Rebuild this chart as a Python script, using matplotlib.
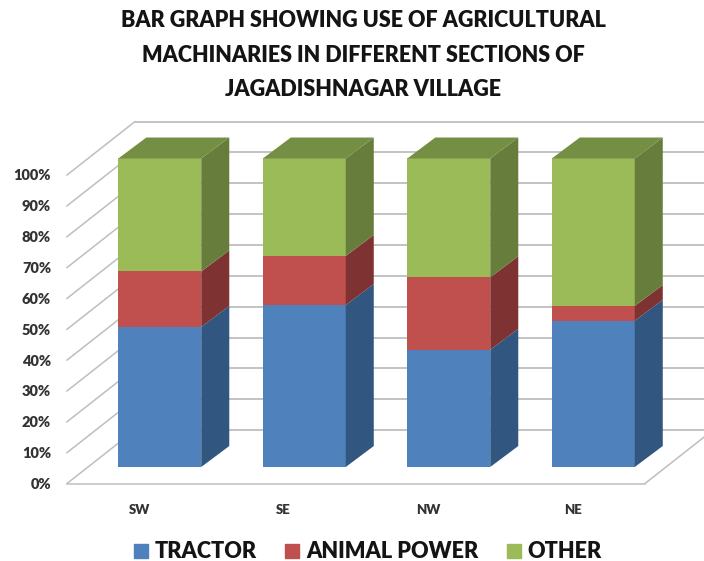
import numpy as np
import matplotlib.pyplot as plt
from matplotlib.patches import Patch

plt.rcParams['font.family'] = ['Lato', 'DejaVu Sans']

sections = ['SW', 'SE', 'NW', 'NE']
tractor = [45.4, 52.5, 38.0, 47.4]
animal_power = [18.0, 15.9, 23.5, 4.8]
other = [36.6, 31.6, 38.5, 47.8]
series_names = ['TRACTOR', 'ANIMAL POWER', 'OTHER']
yticks = [0, 10, 20, 30, 40, 50, 60, 70, 80, 90, 100]

front_colors = ['#4F81BD', '#C0504D', '#9BBB59']
side_colors = ['#31567F', '#7E3231', '#677D3B']
top_color = '#748E44'
grid_color = '#BEBEBE'

# oblique look of the excel 3d chart, in data units
wall_dx, wall_dy = 0.47, 17.3
bar_dx, bar_dy = 0.194, 6.8
gap_dx, gap_dy = 0.142, 5.35
bar_width = 0.574

fig = plt.figure(figsize=(7.04, 5.61), dpi=100)
ax = fig.add_axes([67 / 704, (561 - 483.5) / 561, 578 / 704, 308.5 / 561])
ax.set_xlim(-0.5, 3.5)
ax.set_ylim(0, 100)
for spine in ax.spines.values():
    spine.set_visible(False)

# walls and floor
for v in yticks:
    ax.plot([-0.5, -0.5 + wall_dx], [v, v + wall_dy], color=grid_color, lw=1.1, clip_on=False, zorder=1)
    ax.plot([-0.5 + wall_dx, 3.5 + wall_dx], [v + wall_dy, v + wall_dy], color=grid_color, lw=1.3, clip_on=False, zorder=1)
ax.plot([-0.5, 3.5], [0, 0], color=grid_color, lw=1.1, clip_on=False, zorder=1)
ax.plot([3.5, 3.5 + wall_dx], [0, wall_dy], color=grid_color, lw=1.1, clip_on=False, zorder=1)

# bars
xs = np.arange(len(sections))
bottom = np.zeros(len(sections))
for values, front, side in zip([tractor, animal_power, other], front_colors, side_colors):
    values = np.array(values)
    ax.bar(xs + gap_dx, values, bar_width, bottom=bottom + gap_dy, color=front, clip_on=False, zorder=3)
    for x, b, h in zip(xs, bottom, values):
        right = x + gap_dx + bar_width / 2
        y0 = b + gap_dy
        ax.fill([right, right + bar_dx, right + bar_dx, right],
                [y0, y0 + bar_dy, y0 + h + bar_dy, y0 + h],
                color=side, lw=0, clip_on=False, zorder=3)
    bottom = bottom + values

for x, h in zip(xs, bottom):
    left = x + gap_dx - bar_width / 2
    right = left + bar_width
    y0 = h + gap_dy
    ax.fill([left, right, right + bar_dx, left + bar_dx],
            [y0, y0, y0 + bar_dy, y0 + bar_dy],
            color=top_color, lw=0, clip_on=False, zorder=3)

ax.set_yticks(yticks)
ax.set_yticklabels([f'{v}%' for v in yticks], fontsize=10.5, fontweight='heavy', color='#333333', va='center_baseline')
ax.set_xticks(xs)
ax.set_xticklabels(sections, fontsize=9.5, fontweight='heavy', color='#333333')
ax.tick_params(axis='y', length=0, pad=11.5)
ax.tick_params(axis='x', length=0, pad=15)

fig.text(363 / 704, 1 - 55 / 561,
         'BAR GRAPH SHOWING USE OF AGRICULTURAL\nMACHINARIES IN DIFFERENT SECTIONS OF\nJAGADISHNAGAR VILLAGE',
         ha='center', va='center', fontsize=15.5, fontweight='heavy', color='#141414', linespacing=1.78)

handles = [Patch(color=c, label=n) for c, n in zip(front_colors, series_names)]
fig.legend(handles=handles, ncols=3, loc='center', bbox_to_anchor=(368 / 704, 1 - 552 / 561),
           frameon=False, handlelength=0.65, handleheight=0.65,
           handletextpad=0.32, columnspacing=1.3, labelcolor='#141414',
           prop={'family': 'Lato', 'weight': 'heavy', 'size': 15.6})

fig.savefig('out.png', dpi=100)
